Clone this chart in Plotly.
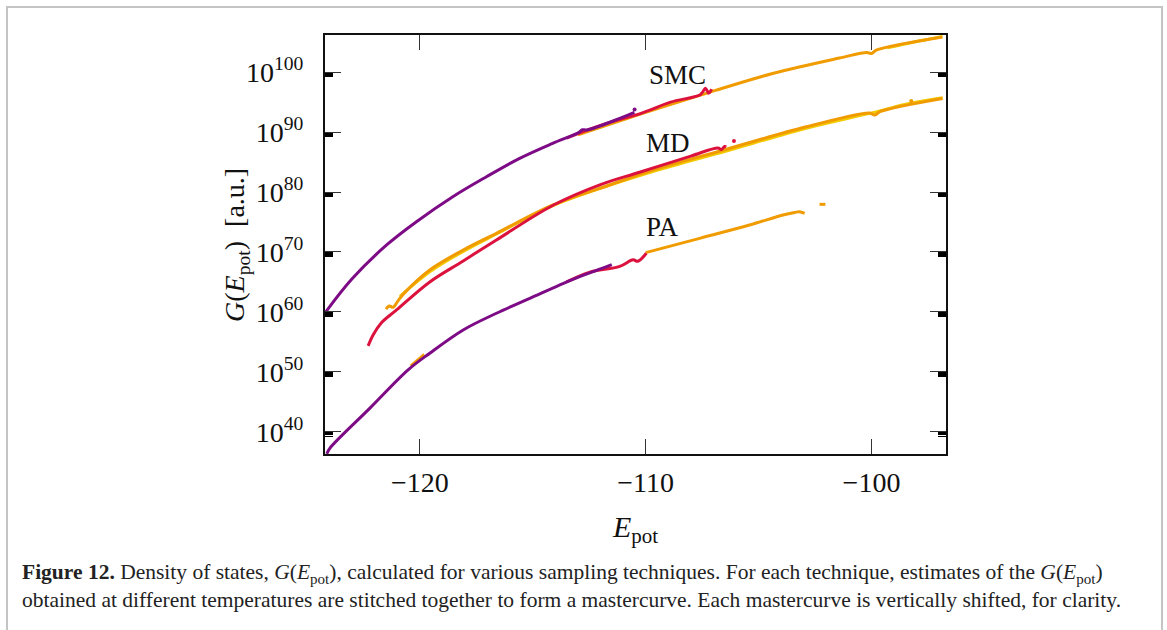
import plotly.graph_objects as go

# ---------------- data (log10 of G) ----------------
# SMC mastercurve, one piece per temperature
smc_purple_x = [-124.20, -123.02, -121.47, -120.15, -118.54, -117.05, -115.58, -114.12, -112.95, -112.80, -112.60, -111.15, -110.50]
smc_purple_y = [59.83, 65.45, 71.17, 75.05, 79.22, 82.55, 85.62, 88.12, 89.95, 90.40, 90.35, 92.28, 93.30]
smc_red_x = [-113.50, -112.00, -110.27, -109.82, -108.90, -107.60, -107.48, -107.35, -107.21, -107.08]
smc_red_y = [89.00, 91.12, 93.05, 93.67, 95.00, 96.20, 96.67, 97.33, 96.50, 97.17]
smc_orange_x = [-113.00, -110.27, -107.50, -106.87, -104.38, -101.42, -100.20, -100.00, -99.79, -98.50, -96.86]
smc_orange_y = [89.55, 92.95, 96.25, 97.00, 99.78, 102.35, 103.30, 103.10, 103.67, 104.80, 105.88]
smc_yellow_x = [-99.30, -98.20, -96.86]
smc_yellow_y = [104.05, 104.95, 105.95]

# MD mastercurve
md_red_x = [-122.29, -122.07, -121.70, -121.03, -119.56, -118.08, -116.61, -114.10, -112.00, -110.27, -108.00, -106.80, -106.65, -106.50, -106.43]
md_red_y = [54.33, 56.17, 58.20, 60.33, 65.00, 68.50, 72.00, 77.80, 81.25, 83.30, 86.00, 87.35, 87.10, 87.60, 87.55]
md_orange_x = [-121.50, -121.36, -121.18, -120.96, -120.70, -119.56, -118.08, -116.61, -114.10, -111.50, -109.82, -106.43, -102.89, -100.10, -99.85, -99.60, -96.85]
md_orange_y = [60.45, 61.00, 60.78, 61.90, 63.10, 67.00, 70.33, 73.12, 77.85, 81.30, 83.50, 87.15, 90.88, 93.20, 92.85, 93.45, 95.62]
md_yellow_x = [-120.88, -119.56, -118.08, -116.61, -114.10, -109.82, -106.43, -102.89, -99.94, -98.24, -96.85]
md_yellow_y = [62.60, 66.70, 70.10, 73.00, 77.75, 83.25, 86.85, 90.65, 93.25, 94.85, 95.75]

# PA mastercurve
pa_purple_x = [-124.12, -123.98, -122.21, -120.52, -119.56, -118.08, -116.61, -115.13, -113.22, -112.00, -111.50]
pa_purple_y = [36.33, 37.28, 43.95, 50.33, 53.12, 57.00, 59.78, 62.28, 65.45, 67.17, 67.90]
pa_red_x = [-113.50, -112.50, -111.15, -110.56, -110.35, -109.97]
pa_red_y = [65.00, 66.60, 67.60, 68.70, 68.45, 69.80]
pa_orange_x = [-110.00, -107.61, -105.40, -103.92, -103.40, -103.19, -102.96]
pa_orange_y = [69.90, 72.28, 74.50, 76.17, 76.60, 76.72, 76.45]
pa_orange_bit_x = [-120.40, -119.80]
pa_orange_bit_y = [51.00, 52.90]
pa_orange_frag_x = [-102.30, -102.04]
pa_orange_frag_y = [77.95, 77.95]

# stray points
dots_x = [-110.49, -106.09, -98.24]
dots_y = [93.78, 88.50, 95.17]

curve_labels = ["SMC", "MD", "PA"]
label_x = [-108.58, -109.03, -109.25]
label_y = [99.5, 88.17, 74.17]

x_ticks = [-120, -110, -100]
x_ticktext = ["\u2212120", "\u2212110", "\u2212100"]
y_tick_exp = [40, 50, 60, 70, 80, 90, 100]

# ---------------- style ----------------
PURPLE = "#7d0b86"
RED = "#dc123e"
ORANGE = "#f09c00"
YELLOW = "#f3c900"
FONT = "Liberation Serif"

fig = go.Figure()


def add_curve(xs, ys, color, width=3.0):
    fig.add_trace(go.Scatter(
        x=xs, y=[10.0 ** v for v in ys], mode="lines",
        line=dict(color=color, width=width, shape="spline", smoothing=1.0),
        showlegend=False, hoverinfo="skip"))


# hot (yellow) first, cold (purple) on top
add_curve(smc_yellow_x, smc_yellow_y, YELLOW)
add_curve(md_yellow_x, md_yellow_y, YELLOW)
add_curve(smc_orange_x, smc_orange_y, ORANGE)
add_curve(md_orange_x, md_orange_y, ORANGE)
add_curve(pa_orange_x, pa_orange_y, ORANGE)
add_curve(pa_orange_bit_x, pa_orange_bit_y, ORANGE)
add_curve(pa_orange_frag_x, pa_orange_frag_y, ORANGE)
add_curve(smc_red_x, smc_red_y, RED)
add_curve(md_red_x, md_red_y, RED)
add_curve(pa_red_x, pa_red_y, RED)
add_curve(smc_purple_x, smc_purple_y, PURPLE)
add_curve(pa_purple_x, pa_purple_y, PURPLE)

fig.add_trace(go.Scatter(
    x=dots_x, y=[10.0 ** v for v in dots_y], mode="markers",
    marker=dict(color=[PURPLE, RED, ORANGE], size=4),
    showlegend=False, hoverinfo="skip"))

for t, lx, ly in zip(curve_labels, label_x, label_y):
    fig.add_annotation(x=lx, y=ly, xref="x", yref="y", text=t, showarrow=False,
                       font=dict(family=FONT, size=27, color="#111"))

# y-axis title (placed between the tick labels, as in the reference)
fig.add_annotation(
    x=-0.1434, y=0.4988, xref="paper", yref="paper", xanchor="center", yanchor="middle",
    textangle=-90, showarrow=False,
    text="<i>G</i>(<i>E</i><sub>pot</sub>)\u2002[a.u.]",
    font=dict(family=FONT, size=28, color="#111"))

# caption
fig.add_annotation(
    x=-0.4911, y=-0.3162, xref="paper", yref="paper", xanchor="left", yanchor="middle",
    align="left", showarrow=False,
    text=("<b>Figure 12.</b> Density of states, <i>G</i>(<i>E</i><sub>pot</sub>), calculated for various "
          "sampling techniques. For each technique, estimates of the <i>G</i>(<i>E</i><sub>pot</sub>)<br>"
          "obtained at different temperatures are stitched together to form a mastercurve. "
          "Each mastercurve is vertically shifted, for clarity."),
    font=dict(family=FONT, size=21.5, color="#222"))

# light grey frame around the figure
fig.add_shape(type="rect", xref="paper", yref="paper",
              x0=-0.5121, x1=1.3478, y0=-0.47, y1=1.0668,
              line=dict(color="#c4c4c4", width=2), layer="below")

minor_vals = [float(k) * 10.0 ** (m - 1) for m in y_tick_exp for k in range(2, 10)]

fig.update_layout(
    width=1167, height=630,
    margin=dict(l=325, r=221, t=35, b=176),
    paper_bgcolor="white", plot_bgcolor="white",
    font=dict(family=FONT, size=28, color="#111"),
    xaxis=dict(
        range=[-124.2, -96.7], tickvals=x_ticks, ticktext=x_ticktext,
        ticks="inside", ticklen=15, tickwidth=1, tickcolor="#333",
        showline=True, linecolor="#111", linewidth=2, mirror="ticks",
        showgrid=False, zeroline=False, automargin=False,
        tickfont=dict(family=FONT, size=28, color="#111"), ticklabelstandoff=2,
        title=dict(text="<i>E</i><sub>pot</sub>", font=dict(family=FONT, size=30, color="#111"), standoff=19),
    ),
    yaxis=dict(
        type="log", range=[36.3, 106.2],
        tickvals=[10.0 ** e for e in y_tick_exp],
        ticktext=["10<sup>%d</sup>" % e for e in y_tick_exp],
        ticks="inside", ticklen=16, tickwidth=1, tickcolor="#333",
        minor=dict(tickvals=minor_vals, ticks="inside", ticklen=8, tickwidth=1, tickcolor="#000"),
        showline=True, linecolor="#111", linewidth=2, mirror="ticks",
        showgrid=False, zeroline=False, automargin=False,
        tickfont=dict(family=FONT, size=28, color="#111"), ticklabelstandoff=14,
    ),
)

fig.write_html("out.html")
